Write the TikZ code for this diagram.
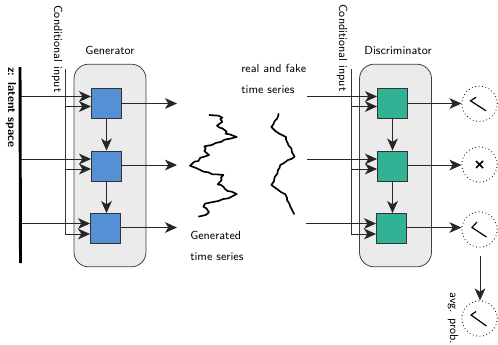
\documentclass[tikz,border=0pt]{standalone}
\usetikzlibrary{arrows.meta}
\tikzset{
 x=0.75pt,y=-0.75pt,
 panel/.style={draw=black!75,fill=black!8,rounded corners=11pt,line width=0.6pt,minimum width=54pt,minimum height=152pt,inner sep=0pt},
 cell/.style={draw=black!80,line width=0.7pt,minimum size=22.5pt,inner sep=0pt},
 gencell/.style={cell,fill={rgb,255:red,86;green,144;blue,212}},
 discell/.style={cell,fill={rgb,255:red,50;green,178;blue,148}},
 link/.style={-{Stealth[length=9pt,width=8pt,inset=2.5pt]},line width=0.6pt,black!85},
 wire/.style={line width=0.6pt,black!80},
 lbl/.style={font=\sffamily\fontsize{8.8}{10}\selectfont,inner sep=0pt},
 res/.style={circle,draw,dotted,line width=0.6pt,minimum size=26.5pt,inner sep=0pt},
 series/.style={line width=1.25pt,line join=round},
 tick/.style={line width=0.9pt},
}
\begin{document}
\begin{tikzpicture}
\useasboundingbox (0,0) rectangle (498,344);
\node[panel] (gp) at (110,165.5) {};
\node[panel] (dp) at (395.5,165.5) {};
\node[gencell] (g1) at (106.5,103.5) {};
\node[gencell] (g2) at (106.5,166) {};
\node[gencell] (g3) at (105.5,228.5) {};
\node[discell] (d1) at (392.5,103.5) {};
\node[discell] (d2) at (392.5,166) {};
\node[discell] (d3) at (391.5,228.5) {};
\node[lbl,rotate=-90,anchor=west,font=\sffamily\bfseries\fontsize{8.8}{10}\selectfont] (zl) at (11,67) {z: latent space};
\node[lbl,rotate=-90,anchor=west] (cl1) at (57,5) {Conditional input};
\node[lbl,rotate=-90,anchor=west] (cl2) at (342,4) {Conditional input};
\node[lbl] (gt) at (110,50) {Generator};
\node[lbl] (dt) at (398,50) {Discriminator};
\node[lbl,anchor=west] (r1) at (241,68) {real and fake};
\node[lbl,anchor=west] (r2) at (241,90) {time series};
\node[lbl,anchor=west] (f1) at (190,235) {Generated};
\node[lbl,anchor=west] (f2) at (190,257) {time series};
\node[lbl,rotate=-90,anchor=west] (ap) at (453,292) {avg. prob.};
% generator wiring
\coordinate (z1) at (21,96.5); \coordinate (z2) at (21,159); \coordinate (z3) at (21,223.5);
\coordinate (c0) at (65,69); \coordinate (c1) at (65,106.5); \coordinate (c2) at (65,169); \coordinate (c3) at (65,234);
\draw[wire] (c0) -- (c3);
\draw[link] (z1) -- (z1-|g1.west);
\draw[link] (z2) -- (z2-|g2.west);
\draw[link] (z3) -- (z3-|g3.west);
\draw[link] (c1) -- (c1-|g1.west);
\draw[link] (c2) -- (c2-|g2.west);
\draw[link] (c3) -- (c3-|g3.west);
\draw[link] (g1) -- (g2);
\draw[link] (g2) -- (g2|-g3.north);
\coordinate (zt) at (20,67); \coordinate (zb) at (20.5,263);
\draw[line width=2.2pt] (zt) -- (zb);
\coordinate (o1) at (177,103.5); \coordinate (o2) at (177,165); \coordinate (o3) at (177,227.5);
\draw[link] (g1.east|-o1) -- (o1);
\draw[link] (g2.east|-o2) -- (o2);
\draw[link] (g3.east|-o3) -- (o3);
% discriminator wiring
\coordinate (r1s) at (307,96.5); \coordinate (r2s) at (307,159); \coordinate (r3s) at (306,223.5);
\coordinate (e0) at (351,69); \coordinate (e1) at (351,106.5); \coordinate (e2) at (351,169); \coordinate (e3) at (351,234);
\draw[wire] (e0) -- (e3);
\draw[link] (r1s) -- (r1s-|d1.west);
\draw[link] (r2s) -- (r2s-|d2.west);
\draw[link] (r3s) -- (r3s-|d3.west);
\draw[link] (e1) -- (e1-|d1.west);
\draw[link] (e2) -- (e2-|d2.west);
\draw[link] (e3) -- (e3-|d3.west);
\draw[link] (d1) -- (d2);
\draw[link] (d2) -- (d2|-d3.north);
\node[res] (a1) at (479.5,103.8) {};
\node[res] (a2) at (479.5,164.5) {};
\node[res] (a3) at (479.5,229.5) {};
\node[res] (a4) at (479.5,318.5) {};
\draw[link] (d1.east|-o1) -- (o1-|a1.west);
\draw[link] (d2.east|-o2) -- (o2-|a2.west);
\draw[link] (d3.east|-o3) -- (o3-|a3.west);
\coordinate (av) at (480,256);
\draw[link] (av) -- (av|-a4.north);
\draw[tick] ([shift={(-3.5,-6.5)}]a1.center) -- ([shift={(-9,-3)}]a1.center) -- ([shift={(6.5,7)}]a1.center);
\draw[tick] ([shift={(-2.5,-7.5)}]a3.center) -- ([shift={(-7.5,-2)}]a3.center) -- ([shift={(7,7.5)}]a3.center);
\draw[tick] ([shift={(-3.5,-7)}]a4.center) -- ([shift={(-8.5,-3.5)}]a4.center) -- ([shift={(7,7.5)}]a4.center);
\draw[tick,line width=1.2pt] ([shift={(-3.5,-3.5)}]a2.center) -- ([shift={(3.5,3.5)}]a2.center) ([shift={(3.5,-3.5)}]a2.center) -- ([shift={(-3.5,3.5)}]a2.center);
\begin{scope}[shift={(185,105)},x=0.25pt,y=-0.25pt]
\coordinate (s1) at (72,30);
\draw[series] (s1) -- (100,32) -- (112,38) -- (106,42) -- (112,50) -- (96,62) -- (104,68) -- (112,70) -- (125,80) -- (122,86) -- (134,88) -- (155,96) -- (135,101) -- (118,104) -- (110,110) -- (92,114) -- (80,120) -- (58,124) -- (62,130) -- (58,138) -- (72,150) -- (55,156) -- (46,158) -- (40,168) -- (28,170) -- (15,182) -- (28,187) -- (40,192) -- (56,200) -- (70,202) -- (82,208) -- (95,208) -- (115,210) -- (108,218) -- (110,225) -- (98,238) -- (108,240) -- (115,245) -- (120,252) -- (128,258) -- (140,260) -- (155,267) -- (130,280) -- (115,282) -- (100,288) -- (78,292) -- (60,296) -- (55,305) -- (64,310) -- (72,322) -- (62,330) -- (40,335);
\end{scope}
\begin{scope}[shift={(262,105)},x=0.25pt,y=-0.25pt]
\coordinate (s2) at (50,25);
\draw[series] (s2) -- (48,34) -- (46,40) -- (38,48) -- (34,58) -- (28,66) -- (40,78) -- (52,86) -- (60,90) -- (72,96) -- (72,104) -- (76,112) -- (80,122) -- (88,130) -- (90,142) -- (98,155) -- (88,162) -- (78,165) -- (66,174) -- (55,180) -- (52,190) -- (48,195) -- (46,206) -- (38,216) -- (36,228) -- (28,240) -- (45,252) -- (58,262) -- (70,268) -- (75,278) -- (75,285) -- (82,296) -- (85,305) -- (92,318) -- (97,328);
\end{scope}
\end{tikzpicture}
\end{document}
